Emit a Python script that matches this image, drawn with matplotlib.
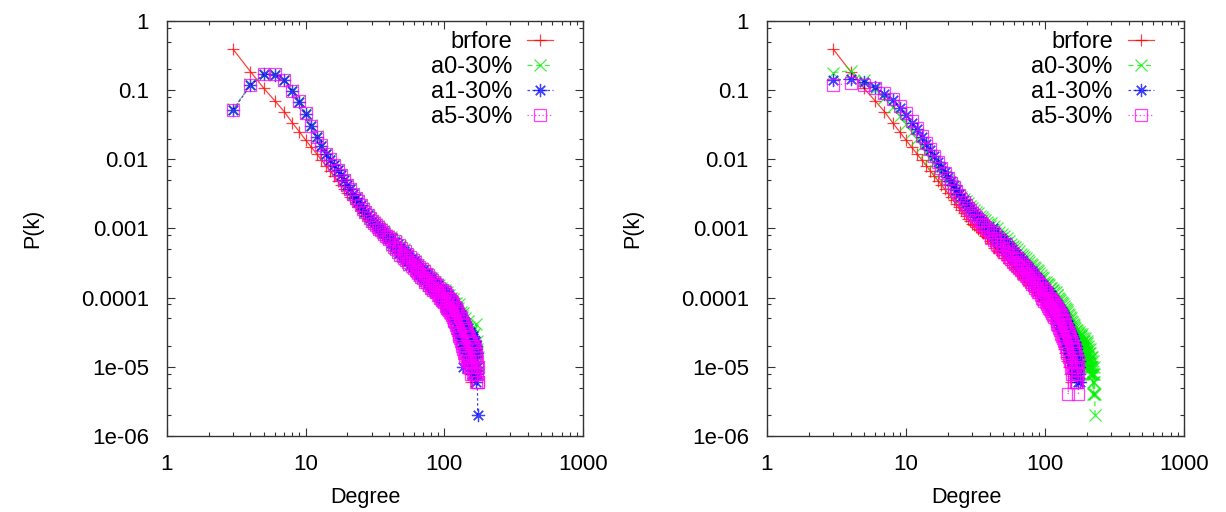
import numpy as np
import matplotlib
matplotlib.use('Agg')
import matplotlib.pyplot as plt
from matplotlib.ticker import LogLocator, NullFormatter, FixedLocator, FixedFormatter

plt.rcParams['font.family'] = ['Liberation Sans', 'DejaVu Sans']
plt.rcParams['font.size'] = 16

# labels / ticks
names = ['brfore', 'a0-30%', 'a1-30%', 'a5-30%']
xtick_vals = [1, 10, 100, 1000]
xtick_txt = ['1', '10', '100', '1000']
ytick_vals = [1e-6, 1e-5, 1e-4, 1e-3, 1e-2, 1e-1, 1]
ytick_txt = ['1e-06', '1e-05', '0.0001', '0.001', '0.01', '0.1', '1']

# P(k), degree k starts at 3 and goes up by one
brfore = [0.39, 0.185, 0.106, 0.070, 0.049, 0.034, 0.025, 0.019, 0.0149, 0.0119,
          0.0097, 0.0081, 0.0068, 0.0057, 0.0049, 0.0042, 0.0037, 0.00325, 0.0029, 0.00254,
          0.00228, 0.00204, 0.00183, 0.00166, 0.00151, 0.00138, 0.00127, 0.00118, 0.00112, 0.00106,
          9.9e-4, 9.6e-4, 8.8e-4, 8.6e-4, 7.9e-4, 7.6e-4, 7.3e-4, 6.7e-4,
          6.2e-4, 6.8e-4, 5.3e-4, 6.0e-4, 4.8e-4, 5.6e-4, 4.5e-4, 5.0e-4, 4.1e-4, 4.7e-4,
          3.8e-4, 4.4e-4, 3.5e-4, 4.1e-4, 3.2e-4, 3.8e-4, 3.0e-4, 3.5e-4, 2.8e-4, 3.2e-4,
          2.6e-4, 3.1e-4, 2.4e-4, 2.9e-4, 2.3e-4, 2.7e-4, 2.1e-4, 2.5e-4, 2.0e-4, 2.4e-4,
          1.9e-4, 2.3e-4, 1.7e-4, 2.1e-4, 1.6e-4, 2.0e-4, 1.5e-4, 1.9e-4, 1.5e-4, 1.8e-4,
          1.4e-4, 1.7e-4, 1.3e-4, 1.6e-4, 1.2e-4, 1.6e-4, 1.2e-4, 1.5e-4, 1.1e-4, 1.4e-4,
          1.1e-4, 1.4e-4, 1.0e-4, 1.3e-4, 9.4e-5, 1.3e-4, 9.0e-5, 1.2e-4, 8.6e-5, 1.1e-4,
          8.2e-5, 1.1e-4, 7.6e-5, 1.0e-4, 7.2e-5, 1.0e-4, 6.8e-5, 9.4e-5, 6.4e-5, 9.0e-5,
          6.0e-5, 8.6e-5, 5.6e-5, 8.2e-5, 5.2e-5, 7.8e-5, 4.8e-5, 7.4e-5, 4.6e-5, 7.0e-5,
          4.2e-5, 6.6e-5, 3.8e-5, 6.2e-5, 3.4e-5, 5.8e-5, 6.6e-5, 3.0e-5, 5.2e-5, 2.8e-5,
          4.8e-5, 2.6e-5, 4.4e-5, 2.4e-5, 4.2e-5, 2.0e-5, 3.8e-5, 1.8e-5, 3.6e-5, 1.6e-5,
          3.2e-5, 1.4e-5, 3.0e-5, 1.2e-5, 2.8e-5, 1.4e-5, 2.6e-5, 1.0e-5, 2.2e-5, 1.2e-5,
          2.0e-5, 8e-6, 1.6e-5, 1.0e-5, 6e-6]

# left panel
L_a0 = [0.053, 0.121, 0.168, 0.172, 0.139, 0.099, 0.069, 0.046, 0.031, 0.0215, 0.0158, 0.0121,
        0.0100, 0.0084, 0.0071, 0.0060, 0.0051, 0.0042, 0.0037, 0.0032, 0.0028, 0.0025,
        0.0022, 0.00195, 0.00175, 0.00158, 0.00143, 0.0013,
        1.24e-3, 1.15e-3, 1.10e-3, 1.02e-3, 9.8e-4, 9.1e-4, 8.8e-4, 8.1e-4, 7.9e-4, 7.3e-4,
        7.6e-4, 5.7e-4, 6.6e-4, 5.2e-4, 6.3e-4, 4.7e-4, 5.4e-4, 5.5e-4, 4.1e-4, 4.6e-4,
        5.0e-4, 3.6e-4, 4.3e-4, 3.5e-4, 4.2e-4, 3.0e-4, 3.5e-4, 3.8e-4, 2.8e-4, 3.1e-4,
        3.4e-4, 2.5e-4, 2.9e-4, 2.4e-4, 3.0e-4, 2.1e-4, 2.5e-4, 2.7e-4, 2.0e-4, 2.2e-4,
        2.5e-4, 1.8e-4, 2.2e-4, 1.8e-4, 2.2e-4, 1.5e-4, 1.9e-4, 2.0e-4, 1.5e-4, 1.6e-4,
        1.9e-4, 1.4e-4, 1.7e-4, 1.3e-4, 1.7e-4, 1.2e-4, 1.4e-4, 1.6e-4, 1.2e-4, 1.3e-4,
        1.5e-4, 1.1e-4, 1.3e-4, 1.1e-4, 1.4e-4, 9.4e-5, 1.1e-4, 1.3e-4, 9.2e-5, 1.0e-4,
        1.3e-4, 7.6e-5, 1.1e-4, 7.0e-5, 1.2e-4, 8.0e-5, 7.2e-5, 1.1e-4, 7.4e-5, 9.0e-5,
        1.0e-4, 6.4e-5, 8.6e-5, 5.8e-5, 9.6e-5, 6.6e-5, 5.4e-5, 8.4e-5, 5.6e-5, 7.4e-5,
        8.4e-5, 4.2e-5, 6.6e-5, 3.6e-5, 7.0e-5, 4.4e-5, 8.0e-5, 3.4e-5, 5.6e-5, 3.0e-5,
        6.2e-5, 3.2e-5, 5.0e-5, 2.4e-5, 5.4e-5, 3.4e-5, 6.0e-5, 2.4e-5, 3.6e-5, 1.8e-5,
        5.0e-5, 2.6e-5, 3.8e-5, 1.8e-5, 4.0e-5, 2.6e-5, 4.6e-5, 1.8e-5, 2.8e-5, 1.4e-5,
        3.8e-5, 1.8e-5, 3.0e-5, 1.2e-5, 3.2e-5, 1.6e-5, 2.6e-5, 1.0e-5, 3.4e-5, 1.4e-5,
        2.8e-5, 1.0e-5, 2.2e-5, 1.4e-5, 3.0e-5, 8e-6, 2.0e-5, 1.2e-5, 4.2e-5, 1.6e-5,
        2.4e-5, 8e-6, 1.8e-5, 1.0e-5, 1.4e-5, 8e-6]
L_a1 = [0.052, 0.118, 0.170, 0.168, 0.141, 0.097, 0.068, 0.045, 0.030, 0.021, 0.0158, 0.0119,
        0.0099, 0.0083, 0.0070, 0.0060, 0.0050, 0.0043, 0.0037, 0.0032, 0.0028, 0.0024,
        0.0022, 0.00193, 0.00172, 0.00157, 0.00142, 0.00128,
        1.19e-3, 1.12e-3, 1.04e-3, 9.9e-4, 9.3e-4, 8.8e-4, 8.3e-4, 7.9e-4, 7.4e-4, 7.1e-4,
        6.1e-4, 7.3e-4, 5.4e-4, 6.4e-4, 5.0e-4, 5.9e-4, 4.4e-4, 5.3e-4, 4.9e-4, 3.9e-4,
        4.7e-4, 3.7e-4, 4.4e-4, 3.4e-4, 4.1e-4, 3.9e-4, 3.0e-4, 3.6e-4, 2.8e-4, 3.4e-4,
        2.6e-4, 3.2e-4, 2.5e-4, 3.0e-4, 2.2e-4, 2.8e-4, 2.1e-4, 2.6e-4, 2.0e-4, 2.5e-4,
        1.9e-4, 2.3e-4, 1.8e-4, 2.2e-4, 1.6e-4, 2.1e-4, 1.6e-4, 1.9e-4, 1.5e-4, 1.9e-4,
        1.4e-4, 1.8e-4, 1.3e-4, 1.7e-4, 1.3e-4, 1.6e-4, 1.2e-4, 1.5e-4, 1.2e-4, 1.5e-4,
        1.1e-4, 1.4e-4, 1.0e-4, 1.3e-4, 1.0e-4, 1.3e-4, 9.4e-5, 1.2e-4, 9.0e-5, 1.2e-4,
        8.0e-5, 1.2e-4, 7.4e-5, 1.1e-4, 7.6e-5, 1.1e-4, 6.8e-5, 1.0e-4, 6.6e-5, 1.0e-4,
        6.2e-5, 9.4e-5, 5.8e-5, 9.0e-5, 5.4e-5, 8.6e-5, 5.0e-5, 8.0e-5, 4.8e-5, 7.6e-5,
        4.2e-5, 7.4e-5, 3.8e-5, 7.0e-5, 3.4e-5, 6.6e-5, 3.2e-5, 6.0e-5, 3.0e-5, 5.8e-5,
        2.6e-5, 5.6e-5, 2.8e-5, 5.0e-5, 2.2e-5, 1.0e-5, 2.0e-5, 4.6e-5, 1.8e-5, 4.2e-5,
        2.0e-5, 4.4e-5, 1.6e-5, 3.8e-5, 1.8e-5, 3.4e-5, 1.4e-5, 3.6e-5, 1.2e-5, 3.0e-5,
        1.6e-5, 3.2e-5, 1.2e-5, 2.8e-5, 1.0e-5, 3.0e-5, 1.4e-5, 2.4e-5, 8e-6, 2.6e-5,
        1.2e-5, 2.8e-5, 1.0e-5, 2.2e-5, 8e-6, 2.4e-5, 1.2e-5, 2.0e-5, 6e-6, 1.8e-5,
        1.0e-5, 1.6e-5, 8e-6, 2e-6]
L_a5 = [0.051, 0.119, 0.171, 0.170, 0.140, 0.098, 0.069, 0.046, 0.0305, 0.0212, 0.0159, 0.0120,
        0.0101, 0.0084, 0.0071, 0.0059, 0.0051, 0.0042, 0.0037, 0.0032, 0.0028, 0.0025,
        0.0022, 0.00194, 0.00174, 0.00156, 0.00141, 0.00129,
        1.20e-3, 1.12e-3, 1.05e-3, 9.9e-4, 9.4e-4, 8.8e-4, 8.4e-4, 7.8e-4, 7.5e-4, 7.0e-4,
        7.0e-4, 5.9e-4, 5.4e-4, 6.6e-4, 5.0e-4, 4.6e-4, 5.8e-4, 4.2e-4, 5.2e-4, 4.0e-4,
        3.7e-4, 4.7e-4, 3.5e-4, 4.3e-4, 3.3e-4, 3.1e-4, 3.9e-4, 2.9e-4, 3.5e-4, 2.7e-4,
        3.3e-4, 2.5e-4, 2.4e-4, 3.0e-4, 2.3e-4, 2.8e-4, 2.1e-4, 2.0e-4, 2.6e-4, 1.9e-4,
        2.4e-4, 1.8e-4, 1.7e-4, 2.2e-4, 1.7e-4, 2.1e-4, 1.5e-4, 1.5e-4, 1.9e-4, 1.4e-4,
        1.8e-4, 1.4e-4, 1.3e-4, 1.7e-4, 1.3e-4, 1.6e-4, 1.2e-4, 1.2e-4, 1.5e-4, 1.1e-4,
        1.4e-4, 1.1e-4, 1.0e-4, 1.3e-4, 1.0e-4, 1.3e-4, 9.2e-5, 9.0e-5, 1.2e-4, 8.6e-5,
        1.2e-4, 8.0e-5, 7.6e-5, 1.1e-4, 7.2e-5, 1.0e-4, 6.8e-5, 6.6e-5, 9.6e-5, 6.2e-5,
        9.0e-5, 6.0e-5, 5.6e-5, 8.6e-5, 5.2e-5, 8.0e-5, 4.8e-5, 4.6e-5, 7.4e-5, 4.4e-5,
        7.0e-5, 4.0e-5, 3.6e-5, 6.4e-5, 3.4e-5, 6.0e-5, 3.0e-5, 2.8e-5, 5.4e-5, 2.6e-5,
        5.0e-5, 2.4e-5, 2.2e-5, 4.6e-5, 2.0e-5, 4.2e-5, 1.8e-5, 1.6e-5, 4.0e-5, 1.6e-5,
        3.6e-5, 1.4e-5, 1.6e-5, 3.4e-5, 1.2e-5, 3.0e-5, 1.0e-5, 1.4e-5, 2.8e-5, 1.2e-5,
        2.6e-5, 1.0e-5, 1.2e-5, 2.4e-5, 8e-6, 2.2e-5, 1.0e-5, 1.2e-5, 2.0e-5, 8e-6,
        2.2e-5, 1.0e-5, 8e-6, 1.8e-5, 1.2e-5, 2.0e-5, 8e-6, 1.4e-5, 6e-6, 1.6e-5,
        1.0e-5, 1.2e-5, 8e-6, 6e-6, 1.0e-5, 6e-6]

# right panel
R_a0 = [0.18, 0.19, 0.14, 0.105, 0.077, 0.057, 0.042, 0.032, 0.025, 0.0196, 0.0157, 0.0127,
        0.0106, 0.0089, 0.0076, 0.0065, 0.0057, 0.0050, 0.0044, 0.0039, 0.0035, 0.0031,
        0.0029, 0.0027, 0.0025, 0.0023, 0.00215, 0.0020, 0.00188, 0.00174, 0.00166, 0.00154,
        1.47e-3, 1.37e-3, 1.31e-3, 1.23e-3, 1.17e-3, 1.10e-3,
        1.2e-3, 9.4e-4, 1.1e-3, 8.6e-4, 1.0e-3, 7.8e-4, 9.0e-4, 7.2e-4, 8.2e-4, 6.6e-4,
        7.8e-4, 6.2e-4, 7.2e-4, 5.6e-4, 6.6e-4, 5.2e-4, 6.0e-4, 4.7e-4, 5.6e-4, 4.5e-4,
        5.4e-4, 4.2e-4, 5.0e-4, 3.9e-4, 4.7e-4, 3.7e-4, 4.3e-4, 3.4e-4, 4.1e-4, 3.2e-4,
        3.9e-4, 3.1e-4, 3.7e-4, 2.9e-4, 3.5e-4, 2.7e-4, 3.3e-4, 2.6e-4, 3.1e-4, 2.4e-4,
        3.0e-4, 2.3e-4, 2.8e-4, 2.2e-4, 2.7e-4, 2.0e-4, 2.5e-4, 1.9e-4, 2.4e-4, 1.8e-4,
        2.3e-4, 1.7e-4, 2.1e-4, 1.6e-4, 2.0e-4, 1.5e-4, 1.9e-4, 1.4e-4, 1.7e-4, 1.3e-4,
        1.7e-4, 1.2e-4, 1.6e-4, 1.1e-4, 1.6e-4, 1.1e-4, 1.5e-4, 1.0e-4, 1.4e-4, 1.0e-4,
        1.4e-4, 9.0e-5, 1.3e-4, 8.8e-5, 1.3e-4, 8.4e-5, 1.2e-4, 8.0e-5, 1.2e-4, 7.8e-5,
        1.1e-4, 7.4e-5, 1.1e-4, 7.0e-5, 1.0e-4, 6.6e-5, 9.6e-5, 6.2e-5, 9.2e-5, 6.0e-5,
        8.8e-5, 5.6e-5, 8.4e-5, 5.4e-5, 8.0e-5, 5.0e-5, 7.6e-5, 4.8e-5, 7.2e-5, 4.6e-5,
        6.8e-5, 4.2e-5, 6.6e-5, 4.0e-5, 6.2e-5, 3.8e-5, 5.8e-5, 3.6e-5, 5.6e-5, 3.4e-5,
        5.2e-5, 3.2e-5, 5.0e-5, 3.0e-5, 4.6e-5, 2.8e-5, 4.4e-5, 2.6e-5, 4.2e-5, 2.4e-5,
        4.0e-5, 2.2e-5, 3.8e-5, 2.2e-5, 3.6e-5, 2.0e-5, 3.4e-5, 1.8e-5, 3.2e-5, 2.0e-5,
        3.4e-5, 1.8e-5, 3.0e-5, 1.6e-5, 3.2e-5, 2.0e-5, 2.8e-5, 1.6e-5, 3.0e-5, 1.8e-5,
        2.8e-5, 1.6e-5, 2.6e-5, 1.4e-5, 3.0e-5, 1.8e-5, 2.4e-5, 1.2e-5, 2.6e-5, 1.6e-5,
        2.4e-5, 1.2e-5, 2.2e-5, 1.4e-5, 2.6e-5, 1.0e-5, 2.0e-5, 1.6e-5, 2.4e-5, 1.2e-5,
        2.2e-5, 1.0e-5, 1.8e-5, 1.4e-5, 2.0e-5, 1.0e-5, 1.6e-5, 1.2e-5, 1.8e-5, 8e-6,
        1.6e-5, 1.0e-5, 1.4e-5, 8e-6, 1.2e-5, 1.0e-5, 1.4e-5, 8e-6, 1.0e-5, 6e-6,
        1.2e-5, 4e-6, 8e-6, 1.0e-5, 4e-6, 6e-6, 8e-6, 4e-6, 2e-6]
R_a1 = [0.14, 0.145, 0.133, 0.11, 0.089, 0.071, 0.056, 0.044, 0.034, 0.027, 0.021, 0.0168,
        0.0136, 0.0112, 0.0093, 0.0078, 0.0066, 0.0056, 0.0048, 0.0042, 0.0036, 0.0032,
        0.0029, 0.0026, 0.0023, 0.00214, 0.00196, 0.00181, 0.00168, 0.00154, 0.00146, 0.00136,
        1.27e-3, 1.20e-3, 1.12e-3, 1.06e-3, 9.9e-4, 9.5e-4,
        8.2e-4, 1.0e-3, 7.6e-4, 9.0e-4, 6.6e-4, 8.0e-4, 6.2e-4, 7.4e-4, 5.6e-4, 6.8e-4,
        5.2e-4, 6.4e-4, 4.8e-4, 5.8e-4, 4.3e-4, 5.4e-4, 4.0e-4, 5.0e-4, 3.7e-4, 4.6e-4,
        3.5e-4, 4.3e-4, 3.2e-4, 4.0e-4, 3.0e-4, 3.8e-4, 2.8e-4, 3.5e-4, 2.6e-4, 3.3e-4,
        2.5e-4, 3.1e-4, 2.3e-4, 2.9e-4, 2.2e-4, 2.7e-4, 2.0e-4, 2.5e-4, 1.9e-4, 2.4e-4,
        1.8e-4, 2.3e-4, 1.7e-4, 2.1e-4, 1.6e-4, 2.0e-4, 1.5e-4, 1.9e-4, 1.4e-4, 1.8e-4,
        1.4e-4, 1.7e-4, 1.3e-4, 1.6e-4, 1.2e-4, 1.5e-4, 1.1e-4, 1.4e-4, 1.1e-4, 1.4e-4,
        1.0e-4, 1.3e-4, 9.4e-5, 1.2e-4, 8.8e-5, 1.2e-4, 8.4e-5, 1.1e-4, 8.0e-5, 1.1e-4,
        7.4e-5, 1.0e-4, 7.0e-5, 9.6e-5, 6.6e-5, 9.2e-5, 6.2e-5, 8.8e-5, 5.8e-5, 8.4e-5,
        5.4e-5, 8.0e-5, 5.0e-5, 7.6e-5, 4.6e-5, 7.2e-5, 4.2e-5, 6.8e-5, 4.0e-5, 6.4e-5,
        3.6e-5, 6.2e-5, 3.4e-5, 5.8e-5, 3.2e-5, 5.4e-5, 2.8e-5, 5.2e-5, 2.6e-5, 4.8e-5,
        2.4e-5, 4.6e-5, 2.2e-5, 4.2e-5, 2.0e-5, 4.0e-5, 1.8e-5, 3.6e-5, 1.6e-5, 3.4e-5,
        1.6e-5, 3.2e-5, 1.4e-5, 3.0e-5, 1.2e-5, 2.8e-5, 1.2e-5, 2.6e-5, 1.0e-5, 2.4e-5,
        1.0e-5, 2.2e-5, 8e-6, 2.0e-5, 1.2e-5, 1.8e-5, 8e-6, 2.0e-5, 1.0e-5, 1.6e-5,
        8e-6, 1.4e-5, 1.0e-5, 6e-6, 1.2e-5, 8e-6, 1.0e-5, 6e-6]
R_a5 = [0.118, 0.126, 0.118, 0.108, 0.092, 0.074, 0.060, 0.047, 0.036, 0.028, 0.022, 0.0175,
        0.0140, 0.0113, 0.0092, 0.0076, 0.0064, 0.0054, 0.0046, 0.0040, 0.0035, 0.0030,
        0.0027, 0.0024, 0.0022, 0.0020, 0.00185, 0.00170, 0.00156, 0.00146, 0.00134, 0.00127,
        1.18e-3, 1.12e-3, 1.05e-3, 9.9e-4, 9.4e-4, 8.9e-4,
        7.4e-4, 9.0e-4, 6.8e-4, 8.0e-4, 6.0e-4, 7.4e-4, 5.4e-4, 6.6e-4, 5.0e-4, 6.0e-4,
        4.6e-4, 5.8e-4, 4.3e-4, 5.2e-4, 3.9e-4, 4.8e-4, 3.6e-4, 4.4e-4, 3.3e-4, 4.1e-4,
        3.1e-4, 3.8e-4, 2.9e-4, 3.6e-4, 2.7e-4, 3.3e-4, 2.5e-4, 3.1e-4, 2.3e-4, 2.9e-4,
        2.2e-4, 2.8e-4, 2.1e-4, 2.6e-4, 1.9e-4, 2.4e-4, 1.8e-4, 2.3e-4, 1.7e-4, 2.1e-4,
        1.6e-4, 2.0e-4, 1.5e-4, 1.9e-4, 1.4e-4, 1.8e-4, 1.3e-4, 1.7e-4, 1.2e-4, 1.6e-4,
        1.2e-4, 1.5e-4, 1.1e-4, 1.4e-4, 1.0e-4, 1.4e-4, 9.6e-5, 1.3e-4, 9.0e-5, 1.2e-4,
        8.6e-5, 1.2e-4, 8.0e-5, 1.1e-4, 7.6e-5, 1.0e-4, 7.2e-5, 9.8e-5, 6.8e-5, 9.4e-5,
        6.4e-5, 9.0e-5, 6.0e-5, 8.6e-5, 5.6e-5, 8.2e-5, 5.2e-5, 7.8e-5, 5.0e-5, 7.4e-5,
        4.6e-5, 7.0e-5, 4.2e-5, 6.6e-5, 4.0e-5, 6.2e-5, 3.6e-5, 5.8e-5, 3.4e-5, 5.6e-5,
        3.0e-5, 5.2e-5, 2.8e-5, 4.8e-5, 2.6e-5, 4.6e-5, 2.4e-5, 4.2e-5, 2.2e-5, 4.0e-5,
        2.0e-5, 3.6e-5, 1.8e-5, 3.4e-5, 1.6e-5, 3.2e-5, 4e-6, 3.0e-5, 1.4e-5, 2.8e-5,
        1.2e-5, 2.6e-5, 1.2e-5, 2.4e-5, 1.0e-5, 2.2e-5, 8e-6, 2.0e-5, 1.0e-5, 1.8e-5,
        8e-6, 1.6e-5, 6e-6, 1.8e-5, 1.0e-5, 1.4e-5, 6e-6, 1.2e-5, 8e-6, 1.0e-5,
        6e-6, 1.2e-5, 8e-6, 4e-6]

left_sets = [brfore, L_a0, L_a1, L_a5]
right_sets = [brfore, R_a0, R_a1, R_a5]

# gnuplot-like look
styles = [dict(color='#ff0000', marker='+', ls='-', ms=9),
          dict(color='#00ee00', marker='x', ls=(0, (4, 3)), ms=8.5),
          dict(color='#0000ff', marker=(8, 2, 0), ls=(0, (2, 2)), ms=9.5),
          dict(color='#ff00ff', marker='s', ls=(0, (1, 2)), ms=8, mfc='none')]

fig = plt.figure(figsize=(12.26, 5.12), dpi=100)
W, H = 1226., 512.
axes = [fig.add_axes([167 / W, 76 / H, 416 / W, 415 / H]),
        fig.add_axes([767 / W, 76 / H, 417 / W, 415 / H])]

for ax, sets in zip(axes, [left_sets, right_sets]):
    for vals, name, st in zip(sets, names, styles):
        k = np.arange(3, 3 + len(vals))
        ax.plot(k, vals, label=name, lw=0.9, mew=0.9, alpha=0.75, **st)
    ax.set_xscale('log')
    ax.set_yscale('log')
    ax.set_xlim(1, 1000)
    ax.set_ylim(1e-6, 1)
    ax.xaxis.set_major_locator(FixedLocator(xtick_vals))
    ax.xaxis.set_major_formatter(FixedFormatter(xtick_txt))
    ax.yaxis.set_major_locator(FixedLocator(ytick_vals))
    ax.yaxis.set_major_formatter(FixedFormatter(ytick_txt))
    ax.xaxis.set_minor_locator(LogLocator(base=10, subs=np.arange(2, 10)))
    ax.yaxis.set_minor_locator(LogLocator(base=10, subs=(2, 5, 8)))
    ax.xaxis.set_minor_formatter(NullFormatter())
    ax.yaxis.set_minor_formatter(NullFormatter())
    ax.tick_params(which='both', direction='in', top=True, right=True,
                   color='#333333', width=0.8)
    ax.tick_params(which='major', length=6, pad=13)
    ax.tick_params(which='minor', length=3)
    for sp in ax.spines.values():
        sp.set_color('#333333')
        sp.set_linewidth(1.0)
    ax.set_xlabel('Degree', fontsize=15.5)
    ax.set_ylabel('P(k)', fontsize=15.5)
    ax.xaxis.label.set_va('center')
    ax.yaxis.label.set_va('center')
    ax.xaxis.set_label_coords(198.5 / 416, -61 / 415)
    ax.yaxis.set_label_coords(-134 / 416, 0.5)
    ax.legend(loc='upper right', bbox_to_anchor=(386 / 416, 1 - 10 / 415),
              frameon=False, markerfirst=False, numpoints=1, fontsize=17,
              handlelength=1.1, handletextpad=0.64, labelspacing=0.13,
              borderpad=0, borderaxespad=0)

fig.savefig('out.png', dpi=100)
